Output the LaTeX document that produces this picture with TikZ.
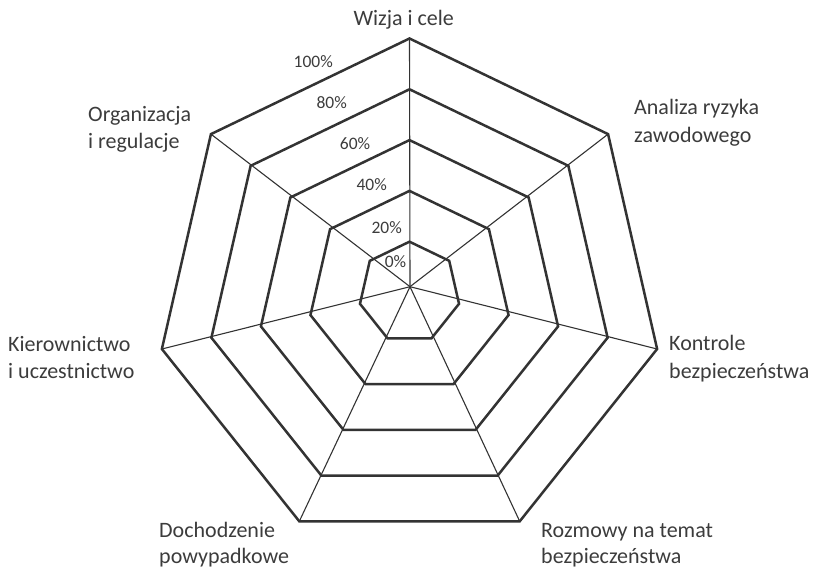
\documentclass[tikz,border=0pt]{standalone}
\usepackage{fontspec}
\setmainfont{Carlito}
\usetikzlibrary{calc}
\definecolor{ink}{HTML}{333333}
\definecolor{labelink}{HTML}{3C3C3C}
\begin{document}
\begin{tikzpicture}[x=1pt,y=1pt,
  ring/.style={draw=ink, line width=2.5pt, line join=miter},
  spoke/.style={draw=ink, line width=1.1pt},
  cat/.style={font=\fontsize{22}{27}\selectfont, text=labelink, inner sep=0pt, anchor=base west},
  pct/.style={font=\fontsize{17.5}{21}\selectfont, text=labelink, inner sep=0pt}]
\useasboundingbox (0,0) rectangle (817,569);

% centre of the heptagons and the point where the spokes meet
\coordinate (c) at (409.5,276.5);
\coordinate (hub) at (410,282.3);

% outer vertices, one per category
\foreach \j in {0,...,6}
  \coordinate (v\j) at ($(c)+(90-\j*360/7:254)$);

% spokes
\foreach \j in {0,...,6}
  \draw[spoke] (hub) -- (v\j);

% rings at 20%, 40%, ..., 100%
\foreach \k in {1,...,5}
  \draw[ring] ($(c)+(90:50.8*\k)$)
    \foreach \j in {1,...,6} { -- ($(c)+(90-\j*360/7:50.8*\k)$) } -- cycle;

% scale labels
\node[pct] (p100) at (313.3,507.3) {100\%};
\node[pct] (p80)  at (331.7,466.7) {80\%};
\node[pct] (p60)  at (355.0,425.0) {60\%};
\node[pct] (p40)  at (371.7,384.0) {40\%};
\node[pct] (p20)  at (386.7,341.7) {20\%};
\node[pct] (p0)   at (395.5,307.3) {0\%};

% category labels
\node[cat, anchor=base] (wizja) at (403.7,543) {Wizja i cele};
\node[cat] (analiza1) at (634,454) {Analiza ryzyka};
\node[cat] (analiza2) at (634,426) {zawodowego};
\node[cat] (kontrole1) at (669,218) {Kontrole};
\node[cat] (kontrole2) at (669,190) {bezpieczeństwa};
\node[cat] (rozmowy1) at (541,31) {Rozmowy na temat};
\node[cat] (rozmowy2) at (541,5.5) {bezpieczeństwa};
\node[cat] (dochodzenie1) at (159,31) {Dochodzenie};
\node[cat] (dochodzenie2) at (159,5.5) {powypadkowe};
\node[cat] (kier1) at (8,217) {Kierownictwo};
\node[cat] (kier2) at (8,190) {i uczestnictwo};
\node[cat] (org1) at (88,447) {Organizacja};
\node[cat] (org2) at (88,420) {i regulacje};
\end{tikzpicture}
\end{document}
